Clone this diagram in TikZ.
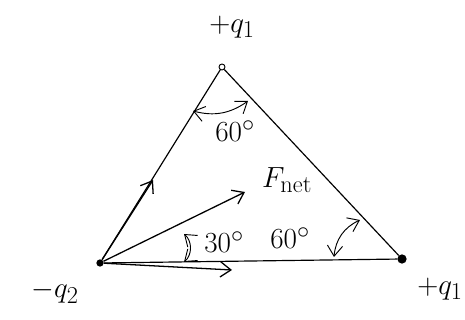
\documentclass[tikz,border=0pt]{standalone}
\usepackage{amsmath}
\usetikzlibrary{arrows.meta}
\begin{document}
\begin{tikzpicture}[x=0.03cm,y=-0.03cm,font=\Huge\rmfamily,
  >={Straight Barb[length=9pt,width=13pt]},
  lbl/.style={font=\Huge\rmfamily},
  side/.style={line width=1.0pt},
  vec/.style={line width=1.1pt,->},
  ang/.style={line width=0.8pt,<->},
  chg/.style={circle,fill=black,inner sep=2.2pt},
]
\useasboundingbox (0,0) rectangle (465,320);

% ============================================================
% Charges at the corners
% ============================================================
\node[chg,fill=white,draw=black,line width=0.8pt,inner sep=1.8pt] (qa) at (222,67) {};
\node[chg] (qb) at (100,263) {};
\node[chg,inner sep=2.8pt] (qc) at (402,259) {};

% Triangle sides
\draw[side] (qb) -- (qa);
\draw[side] (qa) -- (qc);
\draw[side] (qb) -- (qc);

% Charge labels
\node[lbl] (la) at (232,27) {$+q_1$};
\node[lbl] (lb) at (55,292) {$-q_2$};
\node[lbl] (lc) at (440,289) {$+q_1$};

% ============================================================
% Forces on -q2
% ============================================================
\coordinate (f1) at (153,180);
\coordinate (fn) at (245,192);
\coordinate (f2) at (232,270);
\draw[vec] (qb) -- (f1);
\draw[vec] (qb) -- (fn);
\draw[vec] (qb) -- (f2);
\node[lbl] (lfn) at (287,180) {$F_{\mathrm{net}}$};

% ============================================================
% Angles
% ============================================================
\coordinate (a1) at (193,111);
\coordinate (a2) at (248,101);
\draw[ang] (a1) to[bend right=25] (a2);
\node[lbl] (l60a) at (235,131) {$60^\circ$};

\coordinate (b1) at (184,234);
\coordinate (b2) at (184,262);
\draw[ang] (b1) to[bend left=50] (b2);
\node[lbl] (l30) at (224,242) {$30^\circ$};

\coordinate (c1) at (360,220);
\coordinate (c2) at (334,257);
\draw[ang] (c1) to[bend right=30] (c2);
\node[lbl] (l60b) at (290,238) {$60^\circ$};

\end{tikzpicture}
\end{document}
